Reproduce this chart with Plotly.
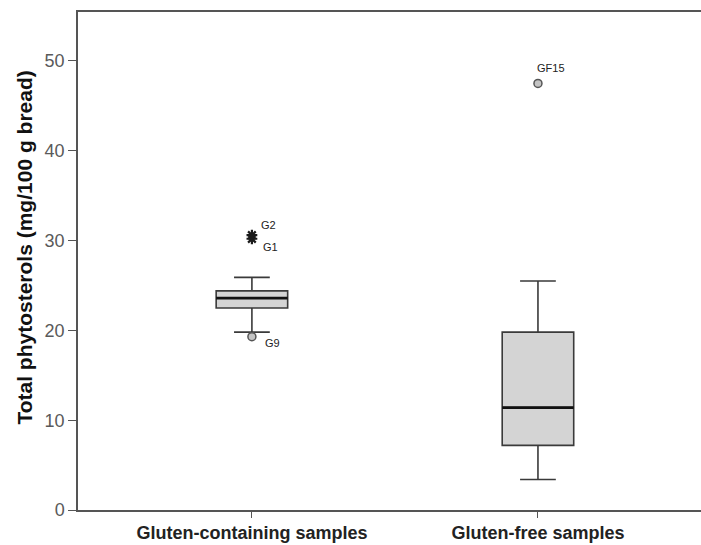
import plotly.graph_objects as go

categories = ["Gluten-containing samples", "Gluten-free samples"]
lower_whisker = [19.8, 3.4]
q1 = [22.5, 7.2]
median = [23.6, 11.4]
q3 = [24.4, 19.8]
upper_whisker = [25.9, 25.5]

# outliers: (category index, value, label, kind)
outlier_cat = [0, 0, 0, 1]
outlier_val = [30.6, 30.2, 19.3, 47.5]
outlier_lab = ["G2", "G1", "G9", "GF15"]
outlier_kind = ["extreme", "extreme", "outlier", "outlier"]
label_shift = [(7, 10), (9, -8), (11, -6), (-3, 15)]

y_title = "Total phytosterols (mg/100 g bread)"

BOX_W = 0.25
fig = go.Figure()

for i, cat in enumerate(categories):
    fig.add_trace(go.Box(
        x=[i], q1=[q1[i]], median=[median[i]], q3=[q3[i]],
        lowerfence=[lower_whisker[i]], upperfence=[upper_whisker[i]],
        width=BOX_W, whiskerwidth=0.5,
        fillcolor="#d4d4d4", line=dict(color="#3a3a3a", width=1.6),
        boxpoints=False, showlegend=False, hoverinfo="skip",
    ))
    fig.add_trace(go.Scatter(
        x=[i - BOX_W / 2, i + BOX_W / 2], y=[median[i], median[i]],
        mode="lines", line=dict(color="#111111", width=2.8),
        showlegend=False, hoverinfo="skip",
    ))

for c, v, lab, kind, (dx, dy) in zip(outlier_cat, outlier_val, outlier_lab, outlier_kind, label_shift):
    if kind == "extreme":
        marker = dict(symbol="asterisk-open", size=9, color="#1a1a1a", line=dict(color="#1a1a1a", width=2.2))
    else:
        marker = dict(symbol="circle", size=8, color="#c4c4c4", line=dict(color="#555555", width=1.5))
    fig.add_trace(go.Scatter(x=[c], y=[v], mode="markers", marker=marker,
                             showlegend=False, hoverinfo="skip"))
    fig.add_annotation(x=c, y=v, text=lab, showarrow=False, xanchor="left", yanchor="middle",
                       xshift=dx, yshift=dy,
                       font=dict(family="Liberation Sans, Arial, sans-serif", size=11, color="#222222"))

# y-axis title placed as rotated annotation (slightly above plot centre, as in the original)
fig.add_annotation(text="<b>" + y_title + "</b>", textangle=-90, showarrow=False,
                   xref="paper", yref="paper", x=-0.085, y=0.527,
                   xanchor="center", yanchor="middle",
                   font=dict(family="Liberation Sans, Arial, sans-serif", size=21, color="#111111"))

fig.update_layout(
    width=701, height=545,
    margin=dict(l=78, r=0, t=12, b=35),
    plot_bgcolor="white", paper_bgcolor="white",
    font=dict(family="Liberation Sans, Arial, sans-serif"),
    xaxis=dict(
        range=[-0.608, 1.570], tickmode="array", tickvals=[0, 1], ticktext=categories,
        showgrid=False, zeroline=False, showline=True, mirror=True,
        linecolor="#555555", linewidth=1.5,
        ticks="outside", ticklen=6, tickcolor="#555555", tickwidth=1.2,
        tickfont=dict(size=18, color="#222222", family="Liberation Sans, Arial, sans-serif", weight="bold"),
        automargin=False,
    ),
    yaxis=dict(
        range=[0, 55.45], tickvals=[0, 10, 20, 30, 40, 50],
        showgrid=False, zeroline=False, showline=True,
        linecolor="#555555", linewidth=1.5,
        ticks="outside", ticklen=8, tickcolor="#555555", tickwidth=1.2,
        tickfont=dict(size=18, color="#5a5a5a"),
        automargin=False,
    ),
)

fig.write_html("out.html", config={"displayModeBar": False},
               post_script="document.body.style.margin='0';document.body.style.overflow='hidden';")
